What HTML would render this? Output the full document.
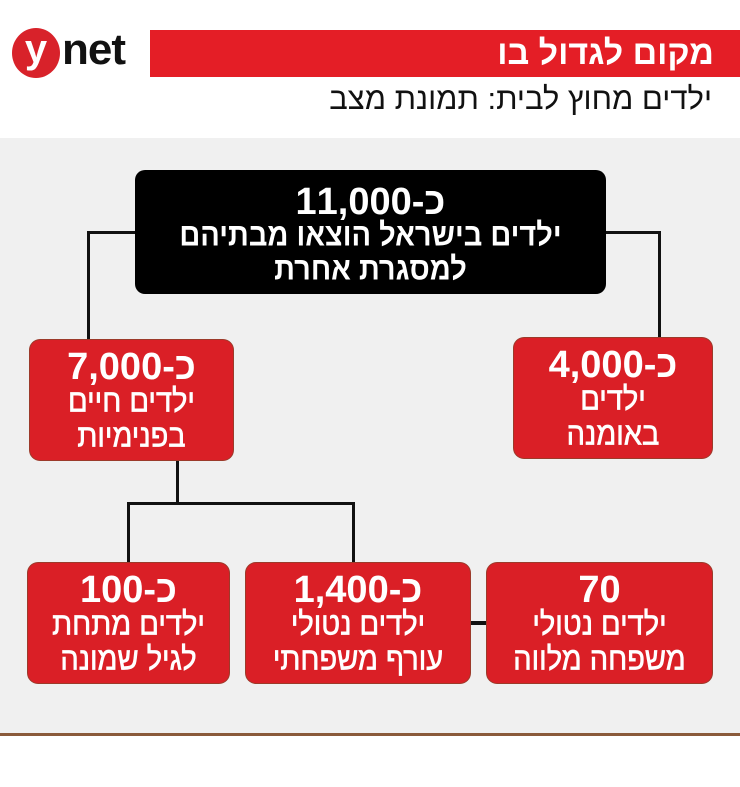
<!DOCTYPE html>
<html><head><meta charset="utf-8"><style>
*{margin:0;padding:0;box-sizing:border-box}
body{width:740px;height:787px;background:#fff;position:relative;overflow:hidden;font-family:"Liberation Sans","DejaVu Sans",sans-serif}
.a{position:absolute}
.bx{position:absolute;border-radius:10px;background:#da1f26;color:#fff;text-align:center;direction:rtl;font-weight:bold;box-shadow:0 0 0 1px #9c3a2a}
.n{font-size:38px;line-height:40px;margin-top:7px}
.t{font-size:29px;line-height:32px;font-weight:normal;-webkit-text-stroke:0.6px #fff;transform:scaleY(1.1)}
.l{position:absolute;background:#111}
</style></head><body>
<div class="a" style="left:0;top:138px;width:740px;height:596px;background:#f0f0f0"></div>
<div class="a" style="left:0;top:733px;width:740px;height:3px;background:#8a5a3a"></div>
<div class="a" style="left:150px;top:30px;width:590px;height:47px;background:#e41e26"></div>
<div class="a" style="right:26px;top:31px;color:#fff;font-size:34px;font-weight:bold;direction:rtl;line-height:44px">מקום לגדול בו</div>
<div class="a" style="right:28px;top:80px;color:#111;font-size:31px;direction:rtl;line-height:38px">ילדים מחוץ לבית: תמונת מצב</div>
<div class="a" style="left:12px;top:28px;width:48px;height:50px;border-radius:50%;background:#d8222a;color:#fff;font-size:40px;font-weight:bold;text-align:center;line-height:42px">y</div>
<div class="a" style="left:62px;top:24px;color:#111;font-size:44px;font-weight:bold;line-height:52px;letter-spacing:-1px">net</div>

<div class="l" style="left:88px;top:231px;width:50px;height:3px"></div>
<div class="l" style="left:87px;top:231px;width:3px;height:112px"></div>
<div class="l" style="left:604px;top:231px;width:57px;height:3px"></div>
<div class="l" style="left:658px;top:231px;width:3px;height:110px"></div>
<div class="l" style="left:176px;top:458px;width:3px;height:46px"></div>
<div class="l" style="left:127px;top:502px;width:228px;height:3px"></div>
<div class="l" style="left:127px;top:502px;width:3px;height:63px"></div>
<div class="l" style="left:352px;top:502px;width:3px;height:63px"></div>
<div class="l" style="left:468px;top:621px;width:22px;height:4px"></div>

<div class="bx" style="left:135px;top:170px;width:471px;height:124px;background:#000;box-shadow:none"><div class="n" style="margin-top:12px">כ-11,000</div><div class="t" style="font-weight:bold;-webkit-text-stroke:0;line-height:31px">ילדים בישראל הוצאו מבתיהם<br>למסגרת אחרת</div></div>
<div class="bx" style="left:30px;top:340px;width:203px;height:120px"><div class="n">כ-7,000</div><div class="t">ילדים חיים<br>בפנימיות</div></div>
<div class="bx" style="left:514px;top:338px;width:198px;height:120px"><div class="n">כ-4,000</div><div class="t">ילדים<br>באומנה</div></div>
<div class="bx" style="left:28px;top:563px;width:201px;height:120px"><div class="n">כ-100</div><div class="t">ילדים מתחת<br>לגיל שמונה</div></div>
<div class="bx" style="left:246px;top:563px;width:224px;height:120px"><div class="n">כ-1,400</div><div class="t">ילדים נטולי<br>עורף משפחתי</div></div>
<div class="bx" style="left:487px;top:563px;width:225px;height:120px"><div class="n">70</div><div class="t">ילדים נטולי<br>משפחה מלווה</div></div>
</body></html>
